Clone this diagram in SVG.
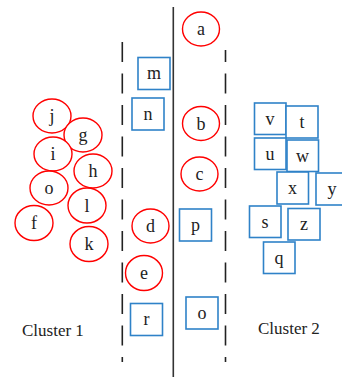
<svg xmlns="http://www.w3.org/2000/svg" width="342" height="377" viewBox="0 0 342 377">
<defs>
<style>
.c ellipse{fill:#fff;stroke:#ff0000;stroke-width:1.4}
.b rect{fill:#fff;stroke:#2f82c8;stroke-width:1.6}
text{font-family:"Liberation Serif","Times New Roman",serif;font-size:18px;fill:#222;text-anchor:middle}
.lbl{font-size:17px;text-anchor:start}
.dash{stroke:#222;stroke-width:1.6;stroke-dasharray:20 11.5;fill:none}
.solid{stroke:#333;stroke-width:1.6;fill:none}
</style>
</defs>
<rect width="342" height="377" fill="#fff"/>
<g id="separators">
<line class="solid" x1="173.3" y1="7" x2="173.3" y2="377"/>
<line class="dash" x1="122.3" y1="42" x2="122.3" y2="362"/>
<line class="dash" x1="225.5" y1="50" x2="225.5" y2="362" stroke-dashoffset="8"/>
</g>
<g id="connectors"></g>
<g id="node-j" class="c"><ellipse cx="52" cy="116" rx="19" ry="17"/><text x="52" y="122">j</text></g>
<g id="node-g" class="c"><ellipse cx="83" cy="135" rx="19" ry="17"/><text x="83" y="141">g</text></g>
<g id="node-i" class="c"><ellipse cx="53" cy="154" rx="19" ry="17"/><text x="53" y="160">i</text></g>
<g id="node-h" class="c"><ellipse cx="93" cy="171" rx="19" ry="17"/><text x="93" y="177">h</text></g>
<g id="node-o1" class="c"><ellipse cx="49" cy="188" rx="19" ry="17"/><text x="49" y="194">o</text></g>
<g id="node-l" class="c"><ellipse cx="87" cy="205.5" rx="19" ry="17.5"/><text x="87" y="212">l</text></g>
<g id="node-f" class="c"><ellipse cx="34" cy="223" rx="19" ry="17.5"/><text x="34" y="229">f</text></g>
<g id="node-k" class="c"><ellipse cx="89" cy="244" rx="19" ry="17.5"/><text x="89" y="250">k</text></g>
<g id="node-a" class="c"><ellipse cx="201" cy="29" rx="18.5" ry="17"/><text x="201" y="35">a</text></g>
<g id="node-b" class="c"><ellipse cx="201" cy="123.5" rx="18.5" ry="17"/><text x="201" y="129.5">b</text></g>
<g id="node-c" class="c"><ellipse cx="199.5" cy="174" rx="18.5" ry="17"/><text x="199.5" y="180">c</text></g>
<g id="node-d" class="c"><ellipse cx="150.5" cy="226" rx="18.5" ry="17"/><text x="150.5" y="232">d</text></g>
<g id="node-e" class="c"><ellipse cx="144" cy="273" rx="18.5" ry="17.5"/><text x="144" y="279">e</text></g>
<g id="node-m" class="b"><rect x="138" y="57.5" width="32" height="32"/><text x="154" y="79">m</text></g>
<g id="node-n" class="b"><rect x="132" y="98" width="32" height="32"/><text x="148" y="119.5">n</text></g>
<g id="node-p" class="b"><rect x="179.5" y="209" width="32" height="32"/><text x="195.5" y="230.5">p</text></g>
<g id="node-r" class="b"><rect x="130.5" y="303.5" width="32" height="32"/><text x="146.5" y="325">r</text></g>
<g id="node-o2" class="b"><rect x="186" y="297" width="32" height="32"/><text x="202" y="318.5">o</text></g>
<g id="node-v" class="b"><rect x="254.5" y="103" width="31.5" height="31.5"/><text x="270" y="124.5">v</text></g>
<g id="node-t" class="b"><rect x="286" y="106" width="32" height="32"/><text x="302" y="127.5">t</text></g>
<g id="node-u" class="b"><rect x="254.5" y="138" width="31.5" height="31.5"/><text x="270" y="159.5">u</text></g>
<g id="node-w" class="b"><rect x="287" y="140" width="31.5" height="31.5"/><text x="302.5" y="161.5">w</text></g>
<g id="node-x" class="b"><rect x="277" y="172" width="31.5" height="32"/><text x="292.5" y="193.5">x</text></g>
<g id="node-y" class="b"><rect x="316" y="173" width="32" height="32"/><text x="332" y="194.5">y</text></g>
<g id="node-s" class="b"><rect x="249.5" y="206" width="31.5" height="31.5"/><text x="265" y="227.5">s</text></g>
<g id="node-z" class="b"><rect x="288" y="208.5" width="32" height="31.5"/><text x="304" y="230">z</text></g>
<g id="node-q" class="b"><rect x="263.5" y="242" width="31.5" height="31.5"/><text x="279" y="263.5">q</text></g>
<g id="labels">
<text class="lbl" x="22" y="335.5">Cluster 1</text>
<text class="lbl" x="258" y="334">Cluster 2</text>
</g>
</svg>
